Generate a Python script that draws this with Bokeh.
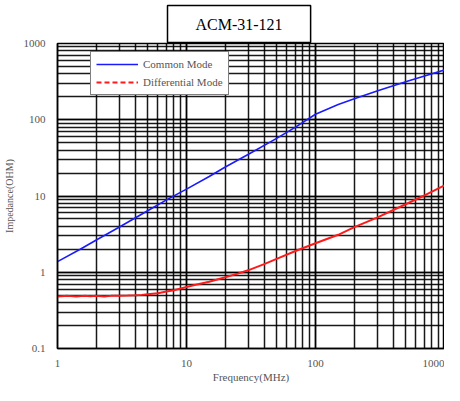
from bokeh.plotting import figure
from bokeh.models import Legend, LegendItem, Title, LogTicker, Range1d
from bokeh.embed import file_html
from bokeh.resources import INLINE

# Common mode impedance (Ohm) vs frequency (MHz)
cm_freq = [1, 1.5, 2, 3, 5, 7, 10, 15, 20, 30, 50, 70, 100, 150, 200, 300, 500, 700, 1000]
cm_imp = [1.38, 2.0, 2.65, 3.9, 6.4, 8.9, 12.3, 18.0, 24.0, 35.0, 57.0, 80.0, 118, 158, 188, 238, 315, 375, 450]

# Differential mode impedance (Ohm) vs frequency (MHz)
dm_freq = [1, 1.2, 1.4, 1.6, 1.8, 2, 2.3, 2.6, 3, 3.5, 4, 4.5, 5, 6, 7, 8, 10, 12, 15, 20,
           25, 30, 40, 50, 70, 100, 150, 200, 300, 500, 700, 1000]
dm_imp = [0.48, 0.49, 0.48, 0.49, 0.485, 0.49, 0.48, 0.49, 0.49, 0.495, 0.50, 0.505, 0.515,
          0.53, 0.56, 0.58, 0.64, 0.69, 0.75, 0.86, 0.96, 1.06, 1.28, 1.5, 1.9, 2.4, 3.1,
          3.9, 5.2, 7.8, 10.2, 13.8]

x_labels = {1: "1", 10: "10", 100: "100", 1000: "1000"}
y_labels = {0.1: "0.1", 1: "1", 10: "10", 100: "100", 1000: "1000"}
title_text = "ACM-31-121"

SERIF = "Liberation Serif"

p = figure(width=444, height=385, x_axis_type="log", y_axis_type="log",
           x_range=Range1d(1, 1000), y_range=Range1d(0.1, 1000),
           output_backend="svg", toolbar_location=None,
           min_border_left=56, min_border_right=0, min_border_top=43, min_border_bottom=36)

p.title = Title(text=title_text, align="left", offset=110, text_font=SERIF,
                text_font_size="16px", text_font_style="normal", text_color="black",
                border_line_color="black", border_line_width=1.5,
                background_fill_color="white", padding=(28, 10), standoff=2)

p.xaxis.ticker = LogTicker(desired_num_ticks=4, num_minor_ticks=10)
p.yaxis.ticker = LogTicker(desired_num_ticks=5, num_minor_ticks=10)
p.xaxis.major_label_overrides = x_labels
p.yaxis.major_label_overrides = y_labels

for ax in (p.xaxis, p.yaxis):
    ax.major_label_text_font = SERIF
    ax.major_label_text_font_size = "11px"
    ax.major_label_text_color = "#555555"
    ax.axis_label_text_font = SERIF
    ax.axis_label_text_font_style = "normal"
    ax.axis_label_text_color = "#555555"
    ax.major_tick_line_color = None
    ax.minor_tick_line_color = None
    ax.major_tick_out = 0
    ax.major_tick_in = 0
    ax.minor_tick_out = 0
    ax.minor_tick_in = 0
    ax.axis_line_color = "black"
    ax.axis_line_width = 1.5

p.xaxis.axis_label = "Frequency(MHz)"
p.xaxis.axis_label_text_font_size = "11px"
p.xaxis.major_label_standoff = 11
p.xaxis.axis_label_standoff = 1
p.yaxis.axis_label = "Impedance(OHM)"
p.yaxis.axis_label_text_font_size = "10px"
p.yaxis.major_label_standoff = 12
p.yaxis.axis_label_standoff = 6

for g in (p.xgrid, p.ygrid):
    g.grid_line_color = "black"
    g.grid_line_width = 1.5
    g.grid_line_alpha = 0.9
    g.minor_grid_line_color = "black"
    g.minor_grid_line_width = 1.5
    g.minor_grid_line_alpha = 0.9

p.outline_line_color = "black"
p.outline_line_width = 1.5
p.background_fill_color = "white"

cm = p.line(cm_freq, cm_imp, line_color="#1a1aff", line_width=1.6)
dm = p.line(dm_freq, dm_imp, line_color="#ff1a1a", line_width=2.0)
dm_leg = p.line(x=[float("nan")], y=[float("nan")], line_color="#ff1a1a",
                line_width=2.0, line_dash="5 3")

legend = Legend(items=[LegendItem(label="Common Mode", renderers=[cm]),
                       LegendItem(label="Differential Mode", renderers=[dm_leg])],
                location=(33, 253), glyph_width=42, glyph_height=14,
                label_text_font=SERIF, label_text_font_size="11px",
                label_text_color="#555555", label_standoff=5,
                border_line_color="black", border_line_width=1.2,
                background_fill_alpha=1.0, padding=5, spacing=4, margin=0)
p.add_layout(legend, "center")

open("out.html", "w").write(file_html(p, INLINE))
